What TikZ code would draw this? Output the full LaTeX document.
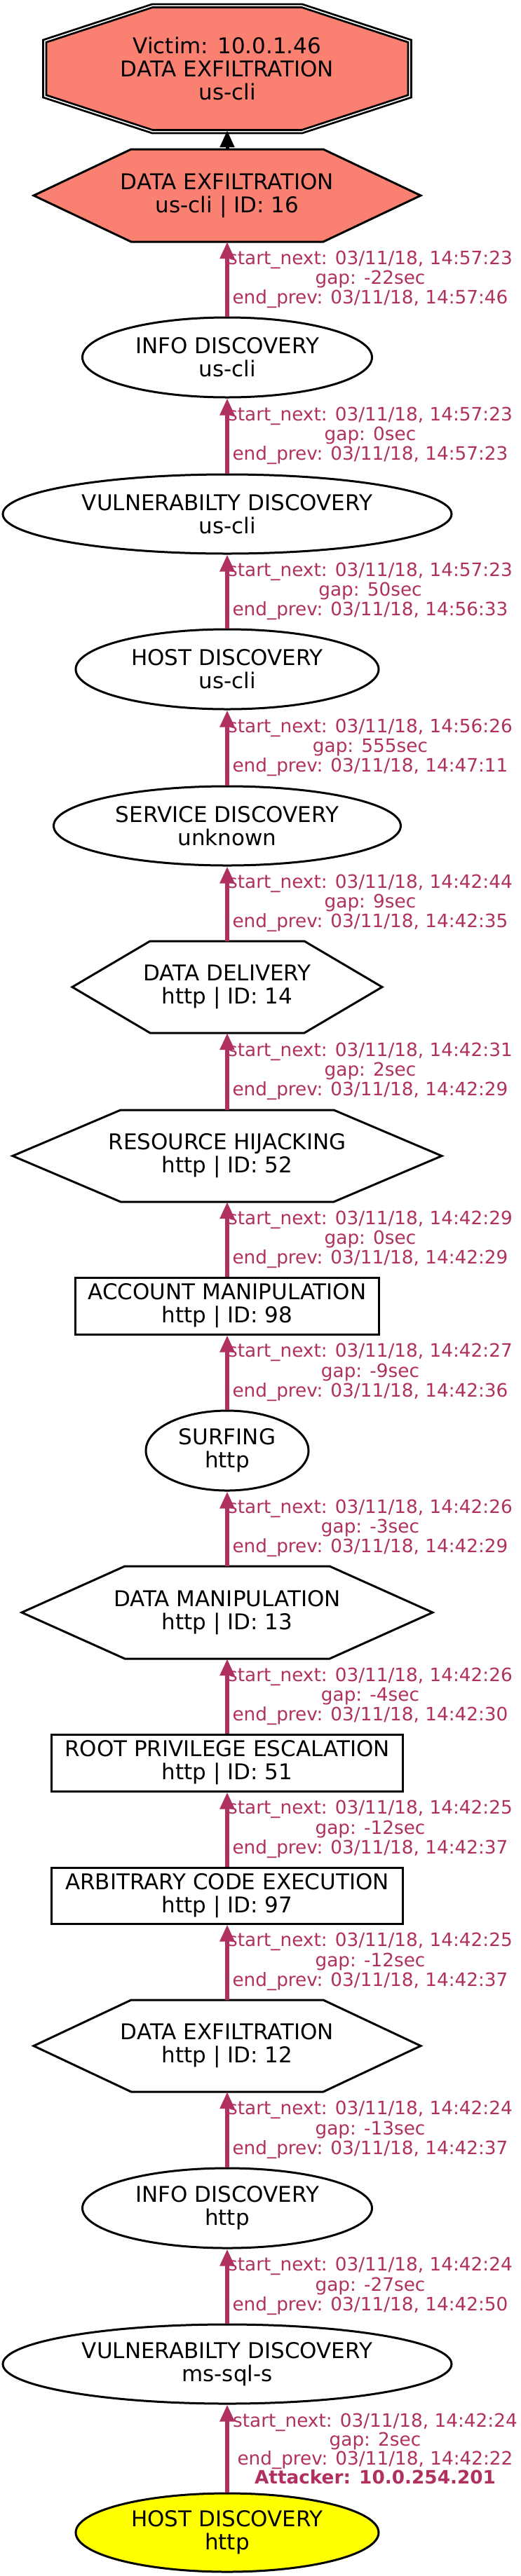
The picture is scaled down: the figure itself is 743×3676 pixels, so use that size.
\documentclass[tikz,border=0pt]{standalone}
\usepackage{fontspec}
\setmainfont{DejaVu Sans}
\usetikzlibrary{arrows.meta,shapes.geometric}
\definecolor{salmonc}{HTML}{FA8072}
\definecolor{maroonc}{HTML}{B03060}
\definecolor{yellowc}{HTML}{FFFF00}
\tikzset{
  shapeborder/.style={draw=black, line width=3pt, line join=miter},
  txt/.style={inner sep=0pt, align=center, font=\fontsize{31}{33}\selectfont, text=black},
  ell/.style={txt, ellipse, draw=black, line width=3pt},
  boxnode/.style={txt, rectangle, draw=black, line width=3pt},
  ghost/.style={txt, rectangle},
  flow/.style={draw=maroonc, line width=5.5pt, -{Triangle[width=20pt,length=24pt]}},
  blackflow/.style={draw=black, line width=5pt, -{Triangle[width=20pt,length=24pt]}},
  elabel/.style={inner sep=0pt, align=center, text=maroonc, font=\fontsize{26.3}{28.3}\selectfont},
}
\newcommand{\hexshape}[6]{\path[shapeborder,#6] ({#1-#3},#2) -- ({#1-#4},{#2-#5}) -- ({#1+#4},{#2-#5}) -- ({#1+#3},#2) -- ({#1+#4},{#2+#5}) -- ({#1-#4},{#2+#5}) -- cycle;}
\begin{document}
\begin{tikzpicture}[x=1pt,y=-1pt]
\useasboundingbox (0,0) rectangle (743,3676);
\fill[white] (0,0) rectangle (743,3676);

% victim octagon (double border)
\draw[line width=2.7pt, line join=miter] (217,6) -- (431,6) -- (586.5,57) -- (586.5,139) -- (431,190) -- (217,190) -- (61.5,139) -- (61.5,57) -- cycle;
\draw[fill=salmonc, line width=2.7pt, line join=miter] (217.7,10.5) -- (430.3,10.5) -- (582,60.3) -- (582,135.7) -- (430.3,185.5) -- (217.7,185.5) -- (66,135.7) -- (66,60.3) -- cycle;

% hexagons
\hexshape{324}{279}{276}{137}{66}{fill=salmonc}
\hexshape{324}{1408.5}{221}{110}{65.5}{fill=white}
\hexshape{324}{1649.5}{306}{152}{65.5}{fill=white}
\hexshape{324}{2301}{293}{146}{66}{fill=white}
\hexshape{324}{2919.5}{276}{137}{65.5}{fill=white}

% nodes
\node[ghost, minimum width=527pt, minimum height=176pt] (vic) at (324,98) {Victim: 10.0.1.46\\DATA EXFILTRATION\\us-cli};
\node[ghost, minimum width=552pt, minimum height=132pt] (hex16) at (324,279) {DATA EXFILTRATION\\us-cli | ID: 16};
\node[ell, minimum width=413pt, minimum height=114pt] (info1) at (324,510) {INFO DISCOVERY\\us-cli};
\node[ell, minimum width=640pt, minimum height=113pt] (vuln1) at (324,733.5) {VULNERABILTY DISCOVERY\\us-cli};
\node[ell, minimum width=432pt, minimum height=114pt] (host1) at (324,955) {HOST DISCOVERY\\us-cli};
\node[ell, minimum width=495pt, minimum height=113pt] (serv) at (324,1178.5) {SERVICE DISCOVERY\\unknown};
\node[ghost, minimum width=442pt, minimum height=131pt] (hex14) at (324,1408.5) {DATA DELIVERY\\http | ID: 14};
\node[ghost, minimum width=612pt, minimum height=131pt] (hex52) at (324,1649.5) {RESOURCE HIJACKING\\http | ID: 52};
\node[boxnode, minimum width=433pt, minimum height=81pt] (acct) at (324,1863.5) {ACCOUNT MANIPULATION\\http | ID: 98};
\node[ell, minimum width=232pt, minimum height=114pt] (surf) at (324,2070) {SURFING\\http};
\node[ghost, minimum width=586pt, minimum height=132pt] (hex13) at (324,2301) {DATA MANIPULATION\\http | ID: 13};
\node[boxnode, minimum width=501pt, minimum height=81pt] (root) at (324,2515.5) {ROOT PRIVILEGE ESCALATION\\http | ID: 51};
\node[boxnode, minimum width=501pt, minimum height=80pt] (arb) at (324,2705) {ARBITRARY CODE EXECUTION\\http | ID: 97};
\node[ghost, minimum width=552pt, minimum height=131pt] (hex12) at (324,2919.5) {DATA EXFILTRATION\\http | ID: 12};
\node[ell, minimum width=413pt, minimum height=114pt] (info2) at (324,3151) {INFO DISCOVERY\\http};
\node[ell, minimum width=640pt, minimum height=113pt] (vuln2) at (324,3373.5) {VULNERABILTY DISCOVERY\\ms-sql-s};
\node[ell, fill=yellowc, minimum width=432pt, minimum height=112pt] (host2) at (324,3614) {HOST DISCOVERY\\http};

% edges
\draw[blackflow] (hex16.north) -- (vic.south);
\draw[flow] (info1.north) -- (hex16.south);
\draw[flow] (vuln1.north) -- (info1.south);
\draw[flow] (host1.north) -- (vuln1.south);
\draw[flow] (serv.north) -- (host1.south);
\draw[flow] (hex14.north) -- (serv.south);
\draw[flow] (hex52.north) -- (hex14.south);
\draw[flow] (acct.north) -- (hex52.south);
\draw[flow] (surf.north) -- (acct.south);
\draw[flow] (hex13.north) -- (surf.south);
\draw[flow] (root.north) -- (hex13.south);
\draw[flow] (arb.north) -- (root.south);
\draw[flow] (hex12.north) -- (arb.south);
\draw[flow] (info2.north) -- (hex12.south);
\draw[flow] (vuln2.north) -- (info2.south);
\draw[flow] (host2.north) -- (vuln2.south);

% edge labels
\node[elabel] (l1) at (528,399) {start\_next: 03/11/18, 14:57:23\\gap: -22sec\\end\_prev: 03/11/18, 14:57:46};
\node[elabel] (l2) at (528,622) {start\_next: 03/11/18, 14:57:23\\gap: 0sec\\end\_prev: 03/11/18, 14:57:23};
\node[elabel] (l3) at (528,844) {start\_next: 03/11/18, 14:57:23\\gap: 50sec\\end\_prev: 03/11/18, 14:56:33};
\node[elabel] (l4) at (528,1067) {start\_next: 03/11/18, 14:56:26\\gap: 555sec\\end\_prev: 03/11/18, 14:47:11};
\node[elabel] (l5) at (528,1289) {start\_next: 03/11/18, 14:42:44\\gap: 9sec\\end\_prev: 03/11/18, 14:42:35};
\node[elabel] (l6) at (528,1529) {start\_next: 03/11/18, 14:42:31\\gap: 2sec\\end\_prev: 03/11/18, 14:42:29};
\node[elabel] (l7) at (528,1769) {start\_next: 03/11/18, 14:42:29\\gap: 0sec\\end\_prev: 03/11/18, 14:42:29};
\node[elabel] (l8) at (528,1958.5) {start\_next: 03/11/18, 14:42:27\\gap: -9sec\\end\_prev: 03/11/18, 14:42:36};
\node[elabel] (l9) at (528,2181) {start\_next: 03/11/18, 14:42:26\\gap: -3sec\\end\_prev: 03/11/18, 14:42:29};
\node[elabel] (l10) at (528,2421) {start\_next: 03/11/18, 14:42:26\\gap: -4sec\\end\_prev: 03/11/18, 14:42:30};
\node[elabel] (l11) at (528,2610.5) {start\_next: 03/11/18, 14:42:25\\gap: -12sec\\end\_prev: 03/11/18, 14:42:37};
\node[elabel] (l12) at (528,2799.5) {start\_next: 03/11/18, 14:42:25\\gap: -12sec\\end\_prev: 03/11/18, 14:42:37};
\node[elabel] (l13) at (528,3039.5) {start\_next: 03/11/18, 14:42:24\\gap: -13sec\\end\_prev: 03/11/18, 14:42:37};
\node[elabel] (l14) at (528,3262.5) {start\_next: 03/11/18, 14:42:24\\gap: -27sec\\end\_prev: 03/11/18, 14:42:50};
\node[elabel, font=\fontsize{26.3}{27}\selectfont] (l15) at (535,3494) {start\_next: 03/11/18, 14:42:24\\gap: 2sec\\end\_prev: 03/11/18, 14:42:22\\\textbf{Attacker: 10.0.254.201}};
\end{tikzpicture}
\end{document}
